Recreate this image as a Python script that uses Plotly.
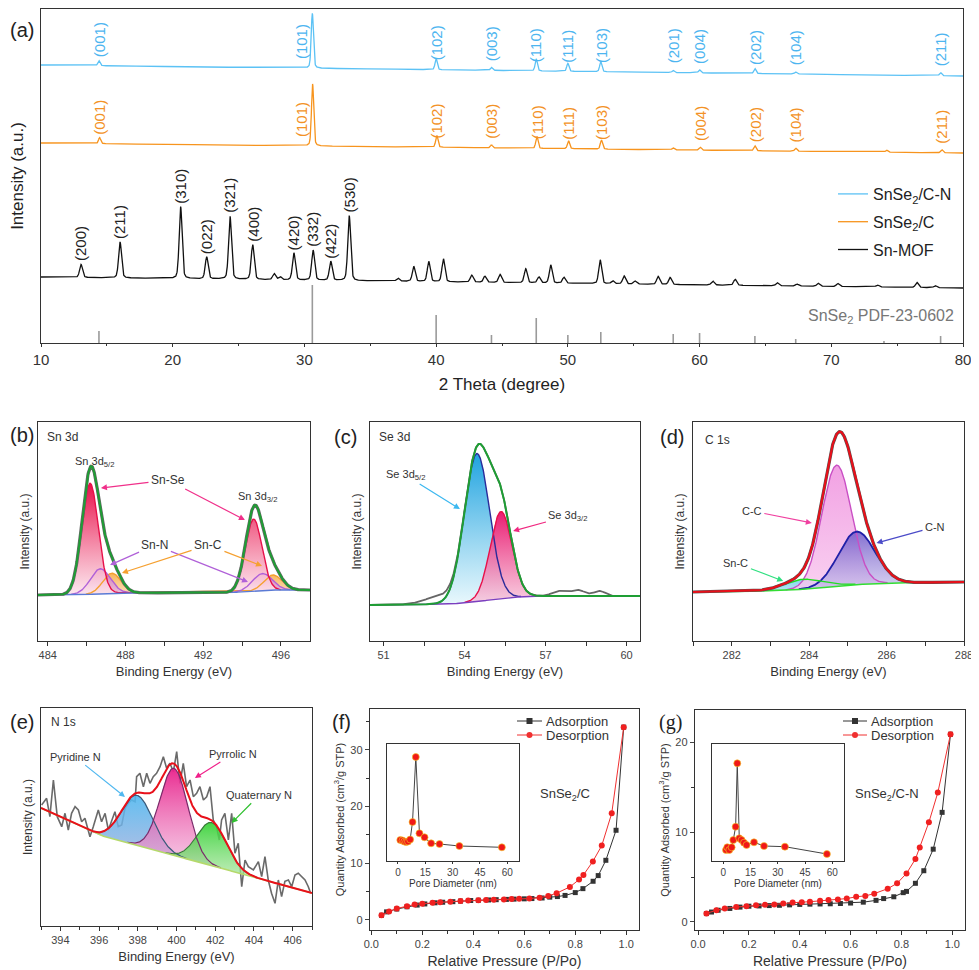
import numpy as np
import plotly.graph_objects as go

FONT = 'Arial, "Liberation Sans", sans-serif'
OFF = 8                      # the page body margin shifts the figure by this much
W, H = 979 - OFF, 970 - OFF

# ---------------- (a) XRD: peak positions (2θ) / heights above local baseline ----------------
cn_pos = [14.4, 30.6, 40.0, 44.2, 47.6, 50.0, 52.5, 58.0, 60.0, 64.2, 67.3, 78.3]
cn_int = [5, 55, 11, 3, 12, 8, 10, 2, 3, 5, 2, 3]
cn_hkl = ['(001)', '(101)', '(102)', '(003)', '(110)', '(111)', '(103)', '(201)', '(004)', '(202)', '(104)', '(211)']
cn_base = [278, 267]

c_pos = [14.45, 30.62, 40.05, 44.2, 47.65, 50.05, 52.55, 58.0, 60.05, 64.2, 67.3, 74.2, 78.4]
c_int = [6, 62, 12, 3, 12, 8, 9, 2, 3, 5, 3, 2, 3]
c_hkl = ['(001)', '(101)', '(102)', '(003)', '(110)', '(111)', '(103)', '', '(004)', '(202)', '(104)', '', '(211)']
c_base = [200, 190]

mof_pos = [13.04, 16.0, 20.6, 22.58, 24.35, 26.07, 29.2, 30.66, 32.0, 33.4,
           27.7, 28.15, 37.1, 38.3, 39.44, 40.55, 42.7, 43.7, 44.85, 46.8, 47.8, 48.7, 49.7,
           52.45, 53.4, 54.27, 55.1, 56.85, 57.76, 61.0, 62.7, 65.9, 67.4, 69.0, 70.5, 73.5, 76.5, 77.9]
mof_int = [13, 36, 72, 22, 63, 35, 27, 30, 19, 65,
           6, 3, 3, 15, 20, 23, 7, 6, 8, 14, 6, 18, 6,
           24, 3, 8, 3, 8, 7, 4, 6, 3, 2, 3, 3, 2, 5, 2]
mof_hkl = ['(200)', '(211)', '(310)', '(022)', '(321)', '(400)', '(420)', '(332)', '(422)', '(530)']
mof_base = [66, 55]

pdf_pos = [14.4, 30.6, 40.0, 44.2, 47.6, 50.0, 52.5, 58.0, 60.0, 64.2, 67.3, 74.0, 78.3]
pdf_int = [12, 58, 28, 8, 25, 8, 11, 9, 10, 7, 4, 2, 7]

# ---------------- XPS fitted components: centre (eV), height, FWHM ----------------
snse_pos, snse_amp, snse_w = [486.18, 494.6], [111, 72], [1.0, 1.0]
snn_pos, snn_amp, snn_w = [486.7, 495.05], [25, 17], [1.2, 1.2]
snc_pos, snc_amp, snc_w = [487.3, 495.6], [20, 15], [1.1, 1.1]
sn_bg_be, sn_bg = [483.5, 486, 487.5, 493.5, 495.5, 497.5], [46, 46.5, 48, 48.5, 51, 51]

se_pos, se_amp, se_w = [54.46, 55.35], [148, 87], [1.1, 0.95]
se_extra_pos, se_extra_amp, se_extra_w = [53.0, 57.5, 58.2, 59.0], [7, 5, 6, 5], [1.2, 0.6, 0.6, 0.5]
se_bg_be, se_bg = [50.5, 53.5, 54.5, 55.5, 56.5, 60.5], [36, 37, 39.5, 43, 45, 45]

c1s_pos, c1s_amp, c1s_w = [284.71, 285.23, 283.85], [121, 53, 10], [0.9, 1.1, 1.2]
c1s_bg_be, c1s_bg = [281, 283, 284, 285, 286, 288], [49, 50, 52, 56, 58, 59]

n1s_pos, n1s_amp, n1s_w = [397.97, 399.87, 401.82], [50, 87, 43], [1.9, 1.7, 1.8]
n1s_bg_be, n1s_bg = [393, 396, 407], [118, 91, 33]
n1s_raw_be = [393.03, 393.29, 393.46, 393.64, 393.84, 394.07, 394.24, 394.41, 394.58, 394.76, 394.93, 395.10,
              395.27, 395.39, 395.53, 395.70, 395.96, 396.13, 396.31, 396.48, 396.65, 396.82, 396.99, 397.17,
              397.34, 397.51, 397.68, 397.86, 397.94, 398.11, 398.29, 398.46, 398.63, 398.80, 398.97, 399.15,
              399.32, 399.49, 399.66, 399.84, 400.01, 400.18, 400.35, 400.52, 400.70, 400.87, 401.04, 401.21,
              401.39, 401.56, 401.73, 401.90, 402.07, 402.21, 402.33, 402.50, 402.68, 402.85, 403.02, 403.19,
              403.37, 403.54, 403.71, 403.97, 404.23, 404.40, 404.57, 404.74, 404.91, 405.09, 405.26, 405.43,
              405.60, 405.78, 405.95, 406.12, 406.29, 406.46, 406.64, 406.81, 406.93]
n1s_raw = [121, 127.7, 109.3, 146, 109.3, 99.3, 112.7, 96, 112.7, 119.3, 116, 104.3,
           107.7, 99.3, 89.3, 99.3, 116, 104.3, 112.7, 96, 106, 114.3, 99.3, 101,
           117.7, 122.7, 126, 124.3, 149.3, 152.7, 139.3, 152.7, 142.7, 149.3, 152.7, 159.3,
           169.3, 157.7, 162.7, 154.3, 174.3, 142.7, 162.7, 139.3, 146, 129.3, 132.7, 139.3,
           126, 129.3, 139.3, 106, 99.3, 86, 106, 112.7, 86, 112.7, 72.7, 82.7,
           39.3, 66, 59.3, 56, 64.3, 49.3, 69.3, 46, 32.7, 22.7, 46, 29.3,
           44.7, 46, 39.3, 51, 52.7, 49.3, 46, 39.3, 32.7]

# ---------------- BET isotherms ----------------
f_ads_p = [0.04, 0.06, 0.10, 0.14, 0.18, 0.21, 0.25, 0.28, 0.32, 0.35, 0.39, 0.42, 0.46, 0.49, 0.53, 0.56,
           0.60, 0.63, 0.67, 0.70, 0.73, 0.76, 0.80, 0.83, 0.87, 0.89, 0.92, 0.96, 0.99]
f_ads_q = [0.8, 1.4, 1.9, 2.3, 2.6, 2.8, 3.0, 3.1, 3.2, 3.3, 3.4, 3.45, 3.5, 3.55, 3.6, 3.65,
           3.7, 3.75, 3.85, 4.0, 4.1, 4.3, 4.8, 5.5, 6.8, 7.8, 10.5, 15.8, 34.0]
f_des_p = [0.99, 0.943, 0.904, 0.869, 0.832, 0.815, 0.779, 0.727, 0.694, 0.66, 0.62, 0.58, 0.55, 0.52,
           0.48, 0.45, 0.42, 0.38, 0.35, 0.31, 0.27, 0.24, 0.20, 0.17, 0.14, 0.10, 0.07, 0.04]
f_des_q = [34.0, 18.8, 13.1, 10.3, 7.9, 7.1, 5.8, 4.7, 4.2, 3.9, 3.75, 3.7, 3.65, 3.6,
           3.55, 3.5, 3.45, 3.4, 3.3, 3.2, 3.1, 3.0, 2.85, 2.7, 2.4, 2.0, 1.45, 0.8]
f_pore_d = [1.3, 2.5, 3.5, 4.5, 5.5, 6.7, 8.0, 9.8, 11.8, 14.6, 18.2, 22.8, 33.7, 57.0]
f_pore_v = [21, 20.5, 19.5, 19, 19.5, 21.5, 39, 104, 27.7, 23.7, 17.7, 17, 15, 13.7]

g_ads_p = [0.033, 0.053, 0.079, 0.125, 0.165, 0.20, 0.24, 0.28, 0.32, 0.36, 0.40, 0.44, 0.48, 0.52,
           0.56, 0.60, 0.65, 0.70, 0.73, 0.77, 0.807, 0.82, 0.855, 0.888, 0.925, 0.96, 0.993]
g_ads_q = [0.93, 1.1, 1.3, 1.5, 1.65, 1.75, 1.78, 1.82, 1.85, 1.9, 1.95, 1.98, 2.0, 2.02,
           2.05, 2.1, 2.2, 2.4, 2.6, 2.8, 3.26, 3.4, 4.3, 5.7, 8.1, 12.2, 20.9]
g_des_p = [0.993, 0.943, 0.908, 0.872, 0.855, 0.82, 0.783, 0.746, 0.693, 0.658, 0.622, 0.585, 0.55, 0.513,
           0.48, 0.44, 0.408, 0.372, 0.335, 0.30, 0.263, 0.228, 0.19, 0.15, 0.105, 0.072, 0.033]
g_des_q = [20.9, 14.4, 11.1, 8.3, 7.0, 5.4, 4.3, 3.7, 3.15, 2.9, 2.8, 2.6, 2.5, 2.45,
           2.35, 2.25, 2.2, 2.15, 2.05, 1.95, 1.9, 1.85, 1.75, 1.65, 1.5, 1.3, 0.95]
g_pore_d = [1.5, 2.2, 3.3, 4.6, 5.5, 6.8, 7.7, 8.8, 10.1, 11.4, 12.8, 16.9, 22.4, 33.9, 57.0]
g_pore_v = [11, 13.7, 11, 13.7, 21, 34.3, 97.7, 22.7, 21, 18.3, 16, 18.7, 15, 14.3, 7]

BLUE, ORANGE = '#5cc2f5', '#f7941d'


def px(x):
    return min(max((x - OFF) / W, 0), 1)


def py(y):
    return min(max(1 - (y - OFF) / H, 0), 1)


def gauss(x, c, a, w):
    return a * np.exp(-4 * np.log(2) * ((x - c) / w) ** 2)


def pvoigt(x, c, a, w):
    g = np.exp(-4 * np.log(2) * ((x - c) / w) ** 2)
    l = 1 / (1 + 4 * ((x - c) / w) ** 2)
    return a * (0.7 * g + 0.3 * l)


fig = go.Figure()
ann = []
shapes = []


def note(x, y, t, size, col='#333', xa='center', ya='middle', fam=FONT):
    ann.append(dict(x=px(x), y=py(y), xref='paper', yref='paper', text=t, showarrow=False,
                    xanchor=xa, yanchor=ya, font=dict(size=size, color=col, family=fam)))


# ================= (a) =================
tt = np.linspace(10, 80, 3501)


def pattern(base, pos, hts, w):
    y = np.interp(tt, [10, 80], base)
    for c, h in zip(pos, hts):
        y = y + pvoigt(tt, c, h, w)
    return y


for name, base, pos, hts, col, w in [('SnSe<sub>2</sub>/C-N', cn_base, cn_pos, cn_int, BLUE, 0.2),
                                     ('SnSe<sub>2</sub>/C', c_base, c_pos, c_int, ORANGE, 0.2),
                                     ('Sn-MOF', mof_base, mof_pos, mof_int, '#111111', 0.26)]:
    fig.add_trace(go.Scatter(x=tt, y=pattern(base, pos, hts, w), mode='lines', name=name,
                             line=dict(color=col, width=1.3), legendgroup=name, legend='legend',
                             xaxis='x', yaxis='y', hoverinfo='skip'))

sx, sy = [], []
for p, h in zip(pdf_pos, pdf_int):
    sx.extend([p, p, None])
    sy.extend([0, h, None])
fig.add_trace(go.Scatter(x=sx, y=sy, mode='lines', line=dict(color='#9a9a9a', width=1.6),
                         showlegend=False, xaxis='x', yaxis='y', hoverinfo='skip'))

for base, pos, hkl, col in [(cn_base, cn_pos, cn_hkl, '#4db5f0'), (c_base, c_pos, c_hkl, '#f39226')]:
    for p, t in zip(pos, hkl):
        if not t:
            continue
        yb = np.interp(p, [10, 80], base) + 7
        ann.append(dict(x=p, y=yb, xref='x', yref='y', text=t, textangle=-90, showarrow=False,
                        xanchor='center', yanchor='bottom', xshift=-11 if t == '(101)' else 0,
                        font=dict(size=15, color=col, family=FONT)))
for p, h, t in zip(mof_pos, mof_int, mof_hkl):
    yb = np.interp(p, [10, 80], mof_base) + h + 1
    ann.append(dict(x=p, y=yb, xref='x', yref='y', text=t, textangle=-90, showarrow=False,
                    xanchor='center', yanchor='bottom', font=dict(size=15, color='#222', family=FONT)))
note(956, 316, 'SnSe<sub>2</sub> PDF-23-0602', 16, '#777', xa='right')


# ================= XPS helpers =================
def xps_component(xa, ya, be, base, comp, lo, hi):
    m = comp > 0.3
    xs, top, bot = be[m], (base + comp)[m], base[m]
    fig.add_trace(go.Scatter(x=np.r_[xs, xs[::-1]], y=np.r_[top, bot[::-1]], fill='toself', mode='none',
                             fillgradient=dict(type='vertical', colorscale=[[0, lo], [1, hi]]),
                             showlegend=False, xaxis=xa, yaxis=ya, hoverinfo='skip'))
    return xs, top


def line(xa, ya, x, y, col, w):
    fig.add_trace(go.Scatter(x=x, y=y, mode='lines', line=dict(color=col, width=w), showlegend=False,
                             xaxis=xa, yaxis=ya, hoverinfo='skip'))


def label(xa, ya, x, y, t, size=11, anchor='center', col='#333', heads=(), acol=None):
    """text label; every head gets an arrow drawn from the label box"""
    base = dict(x=x, y=y, xref=xa, yref=ya, text=t, xanchor=anchor, yanchor='middle',
                font=dict(size=size, color=col, family=FONT))
    if not heads:
        ann.append(dict(base, showarrow=False))
    for i, (hx, hy) in enumerate(heads):
        a = dict(base, x=hx, y=hy, ax=x, ay=y, axref=xa, ayref=ya, showarrow=True,
                 arrowhead=2, arrowsize=1, arrowwidth=1.2, arrowcolor=acol, standoff=0, startstandoff=1)
        if i:  # second arrow from the same label: keep the text box but do not ink it twice
            a['font'] = dict(size=size, color='rgba(0,0,0,0)', family=FONT)
        ann.append(a)


# ================= (b) Sn 3d =================
be = np.linspace(483.5, 497.5, 700)
bg = np.interp(be, sn_bg_be, sn_bg)
cs = [sum(gauss(be, c, a, w) for c, a, w in zip(p, A, Wd)) for p, A, Wd in
      [(snse_pos, snse_amp, snse_w), (snn_pos, snn_amp, snn_w), (snc_pos, snc_amp, snc_w)]]
env = bg + cs[0] + cs[1] + cs[2]
lb_c = xps_component('x2', 'y2', be, bg, cs[2], 'rgba(250,210,150,0.7)', 'rgba(248,170,70,0.9)')
lb_n = xps_component('x2', 'y2', be, bg, cs[1], 'rgba(230,180,230,0.7)', 'rgba(200,110,210,0.9)')
lb_s = xps_component('x2', 'y2', be, bg, cs[0], 'rgba(253,230,238,0.9)', 'rgba(232,16,74,1)')
line('x2', 'y2', *lb_c, '#f5a030', 1.4)
line('x2', 'y2', *lb_n, '#b060d8', 1.4)
line('x2', 'y2', *lb_s, '#e8104a', 1.4)
line('x2', 'y2', be, bg, '#5b7bd5', 1.4)
line('x2', 'y2', be, env, '#666666', 3.2)
line('x2', 'y2', be, env, '#1e9e34', 2)
label('x2', 'y2', 483.86, 204, 'Sn 3d', 12, 'left')
label('x2', 'y2', 486.43, 179, 'Sn 3d<sub>5/2</sub>', 11)
label('x2', 'y2', 494.82, 144, 'Sn 3d<sub>3/2</sub>', 11)
label('x2', 'y2', 490.19, 161, 'Sn-Se', 12, heads=[(486.74, 153), (494.15, 121)], acol='#f0308a')
label('x2', 'y2', 489.52, 96, 'Sn-N', 12, heads=[(487.21, 76), (494.31, 59)], acol='#b060d8')
label('x2', 'y2', 492.25, 96, 'Sn-C', 12, heads=[(487.82, 68), (495.03, 75)], acol='#f5a030')

# ================= (c) Se 3d =================
be = np.linspace(50.5, 60.5, 700)
bg = np.interp(be, se_bg_be, se_bg)
c1 = gauss(be, se_pos[0], se_amp[0], se_w[0])
c2 = gauss(be, se_pos[1], se_amp[1], se_w[1])
extra = sum(gauss(be, c, a, w) for c, a, w in zip(se_extra_pos, se_extra_amp, se_extra_w))
env = bg + c1 + c2
l1 = xps_component('x3', 'y3', be, bg, c1, 'rgba(230,247,252,0.9)', 'rgba(31,163,224,1)')
l2 = xps_component('x3', 'y3', be, bg, c2, 'rgba(247,198,220,0.85)', 'rgba(232,16,106,0.95)')
line('x3', 'y3', *l1, '#2b2b9a', 1.4)
line('x3', 'y3', *l2, '#e8104a', 1.4)
line('x3', 'y3', be, bg, '#7b3fbf', 1.4)
line('x3', 'y3', be, env + extra, '#666666', 1.8)
line('x3', 'y3', be, env, '#1e9e34', 2)
label('x3', 'y3', 50.76, 204, 'Se 3d', 12, 'left')
label('x3', 'y3', 51.8, 166, 'Se 3d<sub>5/2</sub>', 11, heads=[(53.83, 132)], acol='#3cb8f0')
label('x3', 'y3', 57.83, 125, 'Se 3d<sub>3/2</sub>', 11, heads=[(55.8, 110)], acol='#f02880')

# ================= (d) C 1s =================
be = np.linspace(281, 288, 700)
bg = np.interp(be, c1s_bg_be, c1s_bg)
cc = gauss(be, c1s_pos[0], c1s_amp[0], c1s_w[0])
cn = gauss(be, c1s_pos[1], c1s_amp[1], c1s_w[1])
sc = gauss(be, c1s_pos[2], c1s_amp[2], c1s_w[2])
env = bg + cc + cn + sc
lsc = xps_component('x4', 'y4', be, bg, sc, 'rgba(160,224,240,0.8)', 'rgba(120,210,240,0.9)')
lcc = xps_component('x4', 'y4', be, bg, cc, 'rgba(248,200,238,0.85)', 'rgba(240,150,224,0.9)')
lcn = xps_component('x4', 'y4', be, bg, cn, 'rgba(200,190,235,0.7)', 'rgba(110,85,200,0.85)')
line('x4', 'y4', *lcc, '#c94fc4', 1.4)
line('x4', 'y4', *lcn, '#2020a8', 1.8)
line('x4', 'y4', *lsc, '#22dd22', 1.4)
line('x4', 'y4', be, bg, '#33dd33', 1.6)
line('x4', 'y4', be, env, '#555555', 3.2)
line('x4', 'y4', be, env, '#e8101a', 2.2)
label('x4', 'y4', 281.26, 201, 'C 1s', 12, 'left')
label('x4', 'y4', 282.52, 130, 'C-C', 11, heads=[(284.07, 118)], acol='#f040a0')
label('x4', 'y4', 287.25, 114, 'C-N', 11, heads=[(285.74, 98)], acol='#4b4bc8')
label('x4', 'y4', 282.11, 78, 'Sn-C', 11, heads=[(283.33, 60)], acol='#30e080')

# ================= (e) N 1s =================
be = np.linspace(393, 407, 700)
bg = np.interp(be, n1s_bg_be, n1s_bg)
pyd = gauss(be, n1s_pos[0], n1s_amp[0], n1s_w[0])
pyr = gauss(be, n1s_pos[1], n1s_amp[1], n1s_w[1])
qua = gauss(be, n1s_pos[2], n1s_amp[2], n1s_w[2])
env = bg + pyd + pyr + qua
line('x5', 'y5', n1s_raw_be, n1s_raw, '#6a6a6a', 1.6)
la = xps_component('x5', 'y5', be, bg, pyd, 'rgba(150,170,220,0.75)', 'rgba(80,184,240,0.9)')
lb = xps_component('x5', 'y5', be, bg, pyr, 'rgba(240,170,215,0.6)', 'rgba(232,32,138,0.95)')
lc = xps_component('x5', 'y5', be, bg, qua, 'rgba(170,230,160,0.7)', 'rgba(48,208,48,0.9)')
line('x5', 'y5', *la, '#3a5a7a', 1.2)
line('x5', 'y5', *lb, '#7a2a6a', 1.2)
line('x5', 'y5', *lc, '#3a7a3a', 1.2)
line('x5', 'y5', be, bg, '#b5d96b', 1.6)
line('x5', 'y5', be, env, '#e8101a', 2)
label('x5', 'y5', 393.43, 204, 'N 1s', 12, 'left')
label('x5', 'y5', 394.76, 169, 'Pyridine N', 11, heads=[(397.34, 129)], acol='#50b8f0')
label('x5', 'y5', 402.93, 172, 'Pyrrolic N', 11, heads=[(400.95, 148)], acol='#f0208a')
label('x5', 'y5', 404.28, 131, 'Quaternary N', 11, heads=[(402.85, 103)], acol='#30c030')

# ================= (f), (g) BET =================
for xa, ya, ap, aq, dp, dq in [('x6', 'y6', f_ads_p, f_ads_q, f_des_p, f_des_q),
                               ('x7', 'y7', g_ads_p, g_ads_q, g_des_p, g_des_q)]:
    fig.add_trace(go.Scatter(x=ap, y=aq, mode='lines+markers', line=dict(color='#333', width=1),
                             marker=dict(symbol='square', size=5, color='#333'), showlegend=False,
                             xaxis=xa, yaxis=ya, hoverinfo='skip'))
    fig.add_trace(go.Scatter(x=dp, y=dq, mode='lines+markers', line=dict(color='#f03030', width=1),
                             marker=dict(symbol='circle', size=6, color='#f02020'), showlegend=False,
                             xaxis=xa, yaxis=ya, hoverinfo='skip'))
for xa, ya, d, v in [('x8', 'y8', f_pore_d, f_pore_v), ('x9', 'y9', g_pore_d, g_pore_v)]:
    fig.add_trace(go.Scatter(x=d, y=v, mode='lines+markers', line=dict(color='#444', width=1),
                             marker=dict(size=7, color='#f01818', line=dict(color='#f5d020', width=0.6)),
                             showlegend=False, xaxis=xa, yaxis=ya, hoverinfo='skip'))

# hand-drawn legends of (f) and (g)
for x0, x1, y0 in [(517, 542, 721), (843, 867, 721)]:
    for k, (col, txt, sym) in enumerate([('#333', 'Adsorption', 'rect'), ('#f03030', 'Desorption', 'circle')]):
        yy = y0 + 14 * k
        shapes.append(dict(type='line', xref='paper', yref='paper', x0=px(x0), x1=px(x1), y0=py(yy), y1=py(yy),
                           line=dict(color=col, width=1)))
        xm = (x0 + x1) / 2
        shapes.append(dict(type=sym, xref='paper', yref='paper', x0=px(xm - 3), x1=px(xm + 3),
                           y0=py(yy - 3), y1=py(yy + 3), fillcolor=col, line=dict(width=0)))
        note(x1 + 2, yy, txt, 13, xa='left')
note(565, 794, 'SnSe<sub>2</sub>/C', 13)
note(887, 794, 'SnSe<sub>2</sub>/C-N', 13)

# panel letters
for t, x, y, fam in [('(a)', 8, 30, FONT), ('(b)', 8, 435, FONT), ('(c)', 332, 437, FONT),
                     ('(d)', 658, 437, FONT), ('(e)', 8, 722, FONT), ('(f)', 330, 722, FONT),
                     ('(g)', 657, 722, '"Times New Roman", "Liberation Serif", serif')]:
    note(x, y, t, 20, '#222', xa='left', fam=fam)


# ================= axes =================
def ax(x0, x1, rng, anchor, **kw):
    d = dict(domain=[px(x0), px(x1)], range=rng, anchor=anchor, showline=True, mirror=True,
             linecolor='#333', linewidth=1.4, showgrid=False, zeroline=False, ticks='outside',
             ticklen=4, tickwidth=1.2, tickcolor='#333', tickfont=dict(size=11, color='#444', family=FONT),
             title_font=dict(size=13, color='#333', family=FONT), automargin=False)
    d.update(kw)
    return d


def ay(y0, y1, rng, anchor, **kw):
    d = dict(domain=[py(y1), py(y0)], range=rng, anchor=anchor, showline=True, mirror=True,
             linecolor='#333', linewidth=1.4, showgrid=False, zeroline=False, ticks='',
             showticklabels=False, tickfont=dict(size=11, color='#444', family=FONT),
             title_font=dict(size=12, color='#333', family=FONT), automargin=False)
    d.update(kw)
    return d


xps_y = dict(title=dict(text='Intensity (a.u.)', standoff=4))
be_t = dict(title=dict(text='Binding Energy (eV)', standoff=6))
layout = dict(
    xaxis=ax(41, 963, [10, 80], 'y', tick0=10, dtick=10, ticklen=3,
             minor=dict(dtick=5, ticks='outside', ticklen=2, tickcolor='#333'),
             tickfont=dict(size=15, color='#333', family=FONT),
             title=dict(text='2 Theta (degree)', standoff=10, font=dict(size=17, color='#222', family=FONT))),
    yaxis=ay(9, 343, [0, 334], 'x', title=dict(text='Intensity (a.u.)', standoff=12,
                                               font=dict(size=17, color='#222', family=FONT))),
    xaxis2=ax(38, 310, [483.5, 497.5], 'y2', tick0=484, dtick=4,
              minor=dict(dtick=2, tick0=484, ticks='outside', ticklen=4, tickcolor='#333'), **be_t),
    yaxis2=ay(422, 641, [0, 219], 'x2', **xps_y),
    xaxis3=ax(370, 640, [50.5, 60.5], 'y3', tick0=51, dtick=3,
              minor=dict(dtick=1.5, tick0=51, ticks='outside', ticklen=4, tickcolor='#333'), **be_t),
    yaxis3=ay(422, 641, [0, 219], 'x3', **xps_y),
    xaxis4=ax(693, 964, [281, 288], 'y4', tick0=282, dtick=2,
              minor=dict(dtick=1, tick0=282, ticks='outside', ticklen=4, tickcolor='#333'), **be_t),
    yaxis4=ay(422, 641, [0, 219], 'x4', **xps_y),
    xaxis5=ax(41, 312, [393, 407], 'y5', tick0=394, dtick=2,
              minor=dict(dtick=1, tick0=394, ticks='outside', ticklen=3, tickcolor='#333'), **be_t),
    yaxis5=ay(708, 926, [0, 218], 'x5', **xps_y),
    xaxis6=ax(370, 639, [-0.005, 1.05], 'y6', tick0=0, dtick=0.2, tickformat='.1f',
              minor=dict(dtick=0.1, ticks='outside', ticklen=3, tickcolor='#333'),
              title=dict(text='Relative Pressure (P/Po)', standoff=6, font=dict(size=14, color='#333', family=FONT))),
    yaxis6=ay(709, 930, [-1.8, 37.2], 'x6', ticks='outside', ticklen=4, showticklabels=True, tick0=0, dtick=10,
              minor=dict(dtick=5, ticks='outside', ticklen=3, tickcolor='#333'),
              title=dict(text='Quantity Adsorbed (cm<sup>3</sup>/g STP)', standoff=3,
                         font=dict(size=11, color='#333', family=FONT))),
    xaxis7=ax(695, 965, [-0.012, 1.05], 'y7', tick0=0, dtick=0.2, tickformat='.1f',
              minor=dict(dtick=0.1, ticks='outside', ticklen=3, tickcolor='#333'),
              title=dict(text='Relative Pressure (P/Po)', standoff=6, font=dict(size=14, color='#333', family=FONT))),
    yaxis7=ay(710, 930, [-0.9, 23.6], 'x7', ticks='outside', ticklen=4, showticklabels=True, tick0=0, dtick=10,
              minor=dict(dtick=5, ticks='outside', ticklen=3, tickcolor='#333'),
              title=dict(text='Quantity Adsorbed (cm<sup>3</sup>/g STP)', standoff=3,
                         font=dict(size=11, color='#333', family=FONT))),
    xaxis8=ax(387, 519, [-6, 66.4], 'y8', tick0=0, dtick=15, ticklen=2,
              tickfont=dict(size=10, color='#444', family=FONT),
              title=dict(text='Pore Diameter (nm)', standoff=0, font=dict(size=10, color='#333', family=FONT))),
    yaxis8=ay(744, 861, [0, 117], 'x8'),
    xaxis9=ax(712, 844, [-6.2, 66.4], 'y9', tick0=0, dtick=15, ticklen=2,
              tickfont=dict(size=10, color='#444', family=FONT),
              title=dict(text='Pore Diameter (nm)', standoff=0, font=dict(size=10, color='#333', family=FONT))),
    yaxis9=ay(744, 861, [0, 117], 'x9'),
)

fig.update_layout(
    **layout,
    width=W, height=H, margin=dict(l=0, r=0, t=0, b=0),
    paper_bgcolor='white', plot_bgcolor='white', template='none',
    font=dict(family=FONT, color='#333'),
    legend=dict(x=px(833), y=py(177), xanchor='left', yanchor='top', bgcolor='rgba(0,0,0,0)',
                font=dict(size=16, color='#222', family=FONT), tracegroupgap=4, itemwidth=30),
    annotations=ann, shapes=shapes,
)

fig.write_html("out.html")
